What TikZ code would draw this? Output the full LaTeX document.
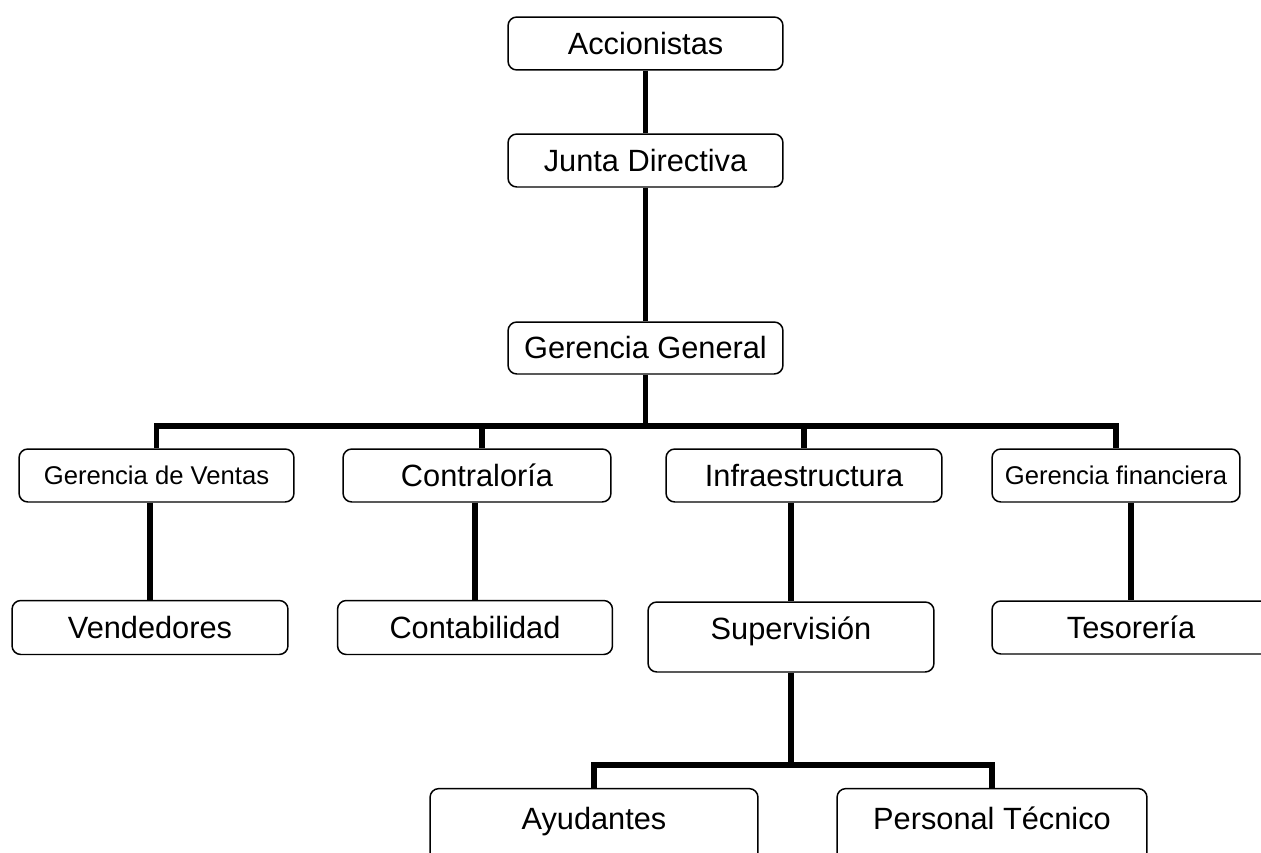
\documentclass[tikz,border=0pt]{standalone}
\usepackage{fontspec}
\setmainfont{Liberation Sans}
\usepackage{tikz}

\begin{document}
\begin{tikzpicture}[x=0.02cm,y=-0.02cm,
    caja/.style={draw,line width=0.85pt,rounded corners=5pt,inner sep=0pt,
      minimum height=1.06cm,font=\fontsize{17.5}{20}\selectfont},
    cajachica/.style={caja,font=\fontsize{14.6}{17}\selectfont},
    cajabaja/.style={draw,line width=0.85pt,rounded corners=5pt,inner xsep=0pt,
      inner ysep=10.5pt,text height=12.5pt,text depth=2cm,anchor=base,
      font=\fontsize{17.5}{20}\selectfont},
    linea/.style={line width=3.3pt}]
              \useasboundingbox (0,0) rectangle (1261,852);
              \clip (0,0) rectangle (1261,852);

              % niveles de arriba
              \node[caja,minimum width=5.5cm] (acc) at (645.5,43.5) {Accionistas};
              \node[caja,minimum width=5.5cm] (junta) at (645.5,160.5) {Junta Directiva};
              \node[caja,minimum width=5.5cm,minimum height=1.04cm] (gg) at (645.5,348) {Gerencia General};

              % gerencias
              \node[cajachica,minimum width=5.5cm] (ventas) at (156.5,475.5) {Gerencia de Ventas};
              \node[caja,minimum width=5.36cm] (contra) at (477,475.5) {Contraloría};
              \node[caja,minimum width=5.52cm] (infra) at (804,475.5) {Infraestructura};
              \node[cajachica,minimum width=4.96cm] (fin) at (1116,475.5) {Gerencia financiera};

              % departamentos
              \node[caja,minimum width=5.52cm,minimum height=1.08cm] (vend) at (150,627.5) {Vendedores};
              \node[caja,minimum width=5.5cm,minimum height=1.08cm] (contab) at (475,627.5) {Contabilidad};
              \node[caja,minimum width=5.72cm,minimum height=1.4cm,text depth=10.5pt] (sup) at (791,637) {Supervisión};
              \node[caja,minimum width=5.56cm,minimum height=1.06cm] (teso) at (1131,627.5) {Tesorería};

              \node[cajabaja,minimum width=6.56cm] (ayu) at (594,829) {Ayudantes};
              \node[cajabaja,minimum width=6.2cm] (pers) at (992,829) {Personal Técnico};

              \coordinate (bus) at (645.5,426);
              \coordinate (bus2) at (791,765);

              \draw[linea] (acc.south) -- (junta.north);
              \draw[linea] (junta.south) -- (gg.north);
              \draw[linea] (gg.south) -- (bus);
              \draw[linea] (ventas.north) |- (bus) -| (fin.north);
              \draw[linea] ([xshift=0.1cm]contra.north) |- (bus);
              \draw[linea] (infra.north) |- (bus);

              \draw[linea] (ventas.south -| vend.north) -- (vend.north);
              \draw[linea] (contra.south -| contab.north) -- (contab.north);
              \draw[linea] (infra.south -| sup.north) -- (sup.north);
              \draw[linea] (fin.south -| teso.north) -- (teso.north);

              \draw[linea] (sup.south) -- (bus2);
              \draw[linea] (ayu.north) |- (bus2) -| (pers.north);
             \end{tikzpicture}
\end{document}
